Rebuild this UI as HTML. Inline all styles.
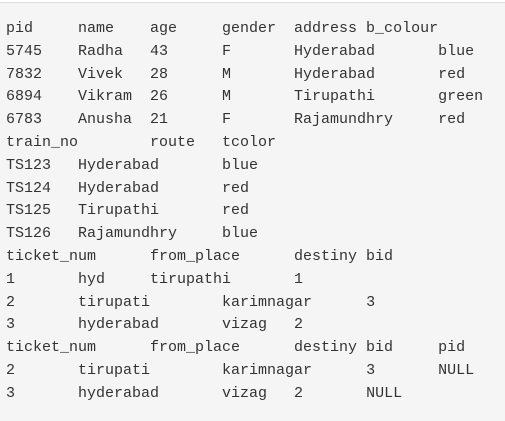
<!DOCTYPE html>
<html><head><style>
html,body{margin:0;padding:0;}
body{width:505px;height:421px;background:#f5f5f5;overflow:hidden;position:relative;}
.top{position:absolute;left:0;top:0;width:505px;height:2px;background:#fff;border-bottom:1px solid #dcdcdc;}
pre{position:absolute;left:6px;top:18px;margin:0;font-family:"Liberation Mono",monospace;font-size:15px;line-height:22.8px;color:#333;tab-size:8;-moz-tab-size:8;white-space:pre;}
</style></head><body>
<div class="top"></div>
<pre>pid	name	age	gender	address b_colour
5745	Radha	43	F	Hyderabad	blue
7832	Vivek	28	M	Hyderabad	red
6894	Vikram	26	M	Tirupathi	green
6783	Anusha	21	F	Rajamundhry	red
train_no	route	tcolor
TS123	Hyderabad	blue
TS124	Hyderabad	red
TS125	Tirupathi	red
TS126	Rajamundhry	blue
ticket_num	from_place	destiny bid
1	hyd	tirupathi	1
2	tirupati	karimnagar	3
3	hyderabad	vizag	2
ticket_num	from_place	destiny bid	pid
2	tirupati	karimnagar	3	NULL
3	hyderabad	vizag	2	NULL</pre>
</body></html>
